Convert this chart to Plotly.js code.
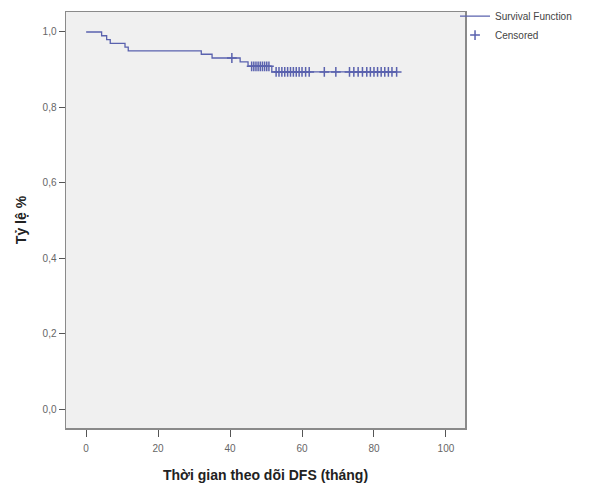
<!DOCTYPE html>
<html>
<head>
<meta charset="utf-8">
<script src="https://cdn.plot.ly/plotly-3.0.1.min.js"></script>
<style>html,body{margin:0;padding:0;background:#fff;}#chart{width:592px;height:490px;}</style>
</head>
<body>
<div id="chart"></div>
<script>
// Kaplan-Meier step function (time in months, survival proportion)
var stepTimes = [0, 4.3, 5.7, 6.7, 10.8, 11.7, 32.0, 35.0, 42.8, 45.0, 51.6, 86.3];
var stepSurv  = [1.0, 0.99, 0.98, 0.97, 0.96, 0.95, 0.941, 0.931, 0.921, 0.909, 0.894, 0.894];
// Censored observations
var censTimes = [40.5, 46.0, 46.6, 47.2, 47.8, 48.4, 49.0, 49.6, 50.2, 50.8,
                 52.8, 53.6, 54.4, 55.2, 56.0, 56.8, 57.6, 58.4, 59.2, 60.0, 61.0, 62.0,
                 66.2, 69.4, 73.2, 74.4, 75.6, 76.8, 78.0, 79.0, 80.0, 81.0, 82.0, 83.0, 84.0, 85.0, 86.3];
var censSurv  = [0.931, 0.909, 0.909, 0.909, 0.909, 0.909, 0.909, 0.909, 0.909, 0.909,
                 0.894, 0.894, 0.894, 0.894, 0.894, 0.894, 0.894, 0.894, 0.894, 0.894, 0.894, 0.894,
                 0.894, 0.894, 0.894, 0.894, 0.894, 0.894, 0.894, 0.894, 0.894, 0.894, 0.894, 0.894, 0.894, 0.894, 0.894];
var xTicks = [0, 20, 40, 60, 80, 100];
var yTicks = [0.0, 0.2, 0.4, 0.6, 0.8, 1.0];
var seriesNames = ['Survival Function', 'Censored'];

var lineColor = '#5a62ae';
var traces = [
  {x: stepTimes, y: stepSurv, type: 'scatter', mode: 'lines', name: seriesNames[0],
   line: {shape: 'hv', color: lineColor, width: 1.3}},
  {x: censTimes, y: censSurv, type: 'scatter', mode: 'markers', name: seriesNames[1],
   marker: {symbol: 'cross-thin', size: 7, line: {color: lineColor, width: 1.5}, color: lineColor}}
];
var layout = {
  width: 592, height: 490,
  margin: {l: 66, r: 127, t: 12, b: 62, autoexpand: false},
  paper_bgcolor: '#ffffff',
  plot_bgcolor: '#f0f0f0',
  separators: ',.',
  font: {family: 'Arial, "Liberation Sans", sans-serif', color: '#333'},
  showlegend: true,
  legend: {x: 0.975, y: 1.025, xanchor: 'left', yanchor: 'top', bgcolor: 'rgba(0,0,0,0)',
           font: {size: 10, color: '#444'}, tracegroupgap: 0, itemwidth: 30},
  xaxis: {
    range: [-5.6, 105.3], tickvals: xTicks, ticktext: xTicks.map(String),
    showgrid: false, zeroline: false, showline: true, mirror: true,
    linecolor: '#8a8a8a', linewidth: 1.5,
    ticks: 'outside', ticklen: 7, tickcolor: '#555', tickwidth: 1, ticklabelstandoff: 3,
    tickfont: {size: 10, color: '#666'},
    title: {text: 'Thời gian theo dõi DFS (tháng)', font: {size: 14, color: '#222', family: 'Arial, "Liberation Sans", sans-serif', weight: 'bold'}, standoff: 17}
  },
  yaxis: {
    range: [-0.05, 1.053], tickvals: yTicks, tickformat: '.1f',
    showgrid: false, zeroline: false, showline: true, mirror: true,
    linecolor: '#8a8a8a', linewidth: 1.5,
    ticks: 'outside', ticklen: 6, tickcolor: '#555', tickwidth: 1,
    tickfont: {size: 10, color: '#666'},
    title: {text: 'Tỷ lệ %', font: {size: 14, color: '#222', family: 'Arial, "Liberation Sans", sans-serif', weight: 'bold'}, standoff: 12}
  }
};
Plotly.newPlot('chart', traces, layout, {displayModeBar: false, staticPlot: true});
</script>
</body>
</html>
